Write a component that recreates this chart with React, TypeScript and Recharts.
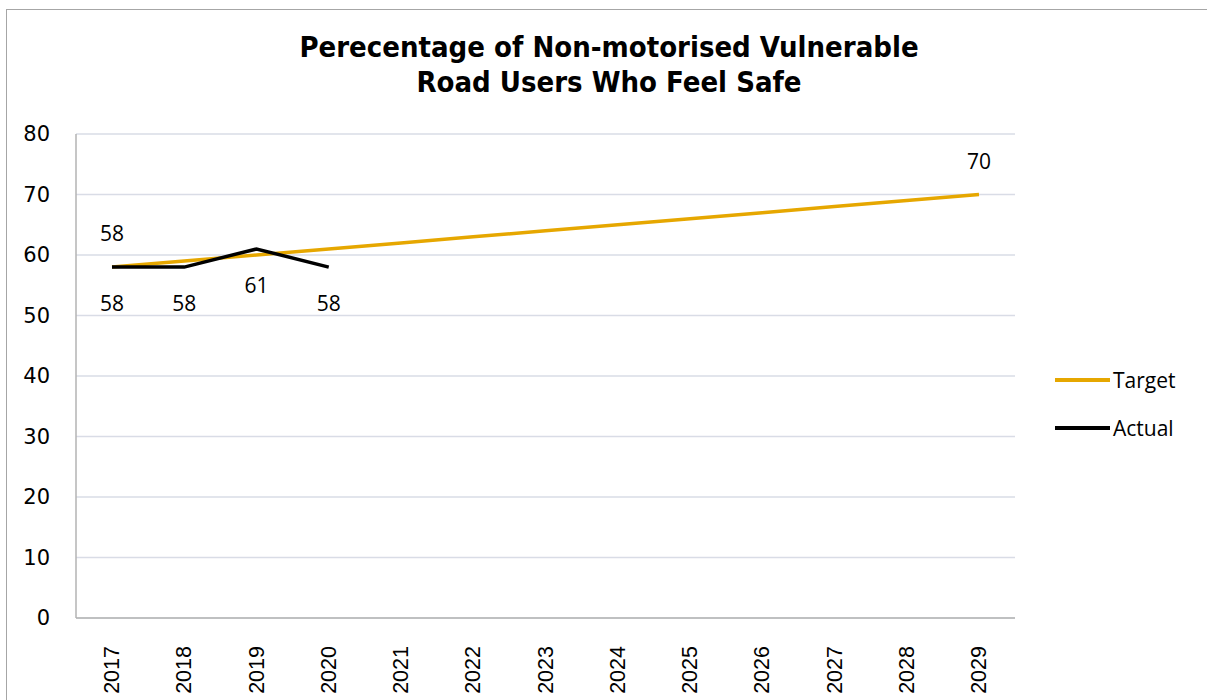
import React from "react";
import {
  LineChart,
  Line,
  XAxis,
  YAxis,
  CartesianGrid,
  LabelList,
} from "recharts";

const YEARS = [
  "2017", "2018", "2019", "2020", "2021", "2022", "2023",
  "2024", "2025", "2026", "2027", "2028", "2029",
];
const TARGET = [58, 59, 60, 61, 62, 63, 64, 65, 66, 67, 68, 69, 70];
const ACTUAL = [58, 58, 61, 58];
const Y_TICKS = [0, 10, 20, 30, 40, 50, 60, 70, 80];

const TARGET_COLOR = "#E6A700";
const ACTUAL_COLOR = "#000000";
const LABEL_FONT = "'Open Sans', 'Noto Sans', sans-serif";

const data = YEARS.map((year, i) => ({
  year,
  target: TARGET[i],
  actual: i < ACTUAL.length ? ACTUAL[i] : null,
}));

// only the first and last target points carry a value label
const targetLabel = (props: any) => {
  const { x, y, value, index } = props;
  if (index !== 0 && index !== TARGET.length - 1) return null;
  return (
    <text
      x={x}
      y={y - 34}
      textAnchor="middle"
      dominantBaseline="central"
      fontSize={21}
      fontFamily={LABEL_FONT}
      fill="#000"
    >
      {value}
    </text>
  );
};

const actualLabel = (props: any) => {
  const { x, y, value } = props;
  if (value == null) return null;
  return (
    <text
      x={x}
      y={y + 36}
      textAnchor="middle"
      dominantBaseline="central"
      fontSize={21}
      fontFamily={LABEL_FONT}
      fill="#000"
    >
      {value}
    </text>
  );
};

const XTick = (props: any) => {
  const { x, y, payload } = props;
  const ty = y + 20;
  return (
    <text
      x={x}
      y={ty}
      transform={`rotate(-90, ${x}, ${ty})`}
      textAnchor="end"
      dominantBaseline="central"
      fontSize={21.5}
      fontFamily="'Liberation Sans', Arial, sans-serif"
      fill="#000"
    >
      {payload.value}
    </text>
  );
};

const YTick = (props: any) => {
  const { y, payload } = props;
  return (
    <text
      x={76 - 26}
      y={y}
      textAnchor="end"
      dominantBaseline="central"
      fontSize={21}
      fontFamily="'DejaVu Sans', Verdana, sans-serif"
      fill="#000"
    >
      {payload.value}
    </text>
  );
};

const legendItems = [
  { name: "Target", color: TARGET_COLOR },
  { name: "Actual", color: ACTUAL_COLOR },
];

export default function App() {
  return (
    <div
      style={{
        position: "absolute",
        left: 0,
        top: 0,
        width: 1207,
        height: 700,
        background: "#fff",
        overflow: "hidden",
      }}
    >
      <div
        style={{
          position: "absolute",
          left: 6,
          top: 9,
          width: 1220,
          height: 720,
          borderLeft: "1.5px solid #a6a6a6",
          borderTop: "1.5px solid #a6a6a6",
        }}
      />
      <div
        style={{
          position: "absolute",
          left: 0,
          top: 30,
          width: 1218,
          textAlign: "center",
          fontFamily: "'DejaVu Sans Condensed', 'DejaVu Sans', sans-serif",
          fontWeight: "bold",
          fontSize: 29,
          lineHeight: "35px",
          color: "#000",
        }}
      >
        Perecentage of Non-motorised Vulnerable
        <br />
        Road Users Who Feel Safe
      </div>
      <div style={{ position: "absolute", left: 0, top: 0 }}>
        <LineChart
          width={1207}
          height={700}
          data={data}
          margin={{ top: 134, right: 192, bottom: 10, left: 16 }}
        >
          <CartesianGrid
            vertical={false}
            stroke="#d9dce6"
            strokeWidth={1.5}
          />
          <XAxis
            dataKey="year"
            height={72}
            tick={<XTick />}
            tickLine={false}
            interval={0}
            padding={{ left: 36, right: 36 }}
            axisLine={{ stroke: "#b3b3b3", strokeWidth: 1.5 }}
          />
          <YAxis
            width={60}
            domain={[0, 80]}
            ticks={Y_TICKS}
            tickLine={false}
            axisLine={{ stroke: "#b3b3b3", strokeWidth: 1.5 }}
            tick={<YTick />}
          />
          <Line
            dataKey="target"
            name="Target"
            stroke={TARGET_COLOR}
            strokeWidth={3.5}
            dot={false}
            activeDot={false}
            isAnimationActive={false}
          >
            <LabelList dataKey="target" content={targetLabel} />
          </Line>
          <Line
            dataKey="actual"
            name="Actual"
            stroke={ACTUAL_COLOR}
            strokeWidth={3.5}
            dot={false}
            activeDot={false}
            isAnimationActive={false}
          >
            <LabelList dataKey="actual" content={actualLabel} />
          </Line>
        </LineChart>
      </div>
      <div
        style={{
          position: "absolute",
          left: 1055,
          top: 356,
          fontFamily: LABEL_FONT,
          fontSize: 21,
        }}
      >
        {legendItems.map((item) => (
          <div
            key={item.name}
            style={{ display: "flex", alignItems: "center", height: 48 }}
          >
            <span
              style={{
                display: "inline-block",
                width: 55,
                height: 3.5,
                background: item.color,
                marginRight: 3,
              }}
            />
            <span>{item.name}</span>
          </div>
        ))}
      </div>
    </div>
  );
}
